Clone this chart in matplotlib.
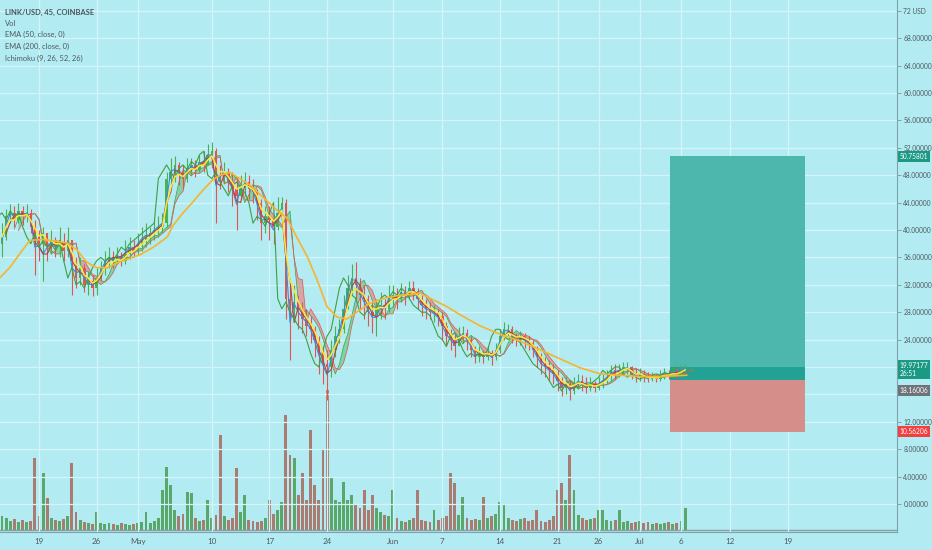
import matplotlib
matplotlib.use('Agg')
import matplotlib.pyplot as plt
import matplotlib.dates as mdates
import matplotlib.transforms as mtrans
import numpy as np
import pandas as pd
from datetime import datetime

# ---------------- data ----------------
bar_start = '2021-04-14 12:00'   # half-day bars
first_open = 38.0
close = [39.0, 42.0, 42.5, 41.5, 42.8, 42.0, 42.5, 40.5, 39.0, 38.0,
         39.5, 37.5, 38.5, 37.5, 38.0, 37.0, 38.5, 35.5, 33.0, 34.5,
         32.0, 32.5, 31.5, 33.0, 34.5, 35.5, 36.0, 35.5, 36.0, 35.5,
         36.5, 37.5, 37.0, 38.0, 38.5, 39.0, 39.5, 40.0, 40.5, 41.0,
         47.5, 48.5, 49.5, 48.5, 47.5, 49.0, 49.5, 48.8, 50.0, 49.5,
         51.0, 51.5, 48.0, 47.5, 48.5, 47.0, 46.0, 45.0, 46.5, 47.0,
         46.0, 45.5, 44.0, 41.0, 42.0, 41.5, 40.5, 42.5, 44.0, 30.0,
         28.5, 29.5, 28.0, 27.0, 26.0, 25.5, 24.0, 22.0, 20.5, 20.0,
         22.5, 24.5, 25.5, 28.5, 31.5, 33.0, 32.0, 30.5, 30.0, 28.0,
         27.5, 28.5, 29.0, 28.5, 30.0, 30.5, 30.0, 31.0, 30.5, 31.5,
         31.0, 30.0, 29.0, 28.5, 28.0, 28.0, 27.5, 26.0, 24.5, 24.0,
         23.0, 24.5, 25.0, 24.0, 22.5, 21.5, 22.0, 21.5, 22.0, 21.5,
         22.5, 24.5, 25.5, 25.5, 24.5, 24.0, 24.5, 24.0, 23.5, 22.5,
         21.5, 20.5, 20.0, 19.5, 19.0, 18.0, 17.0, 17.5, 16.5, 17.5,
         18.0, 17.5, 17.0, 17.5, 17.0, 17.5, 18.0, 18.5, 19.5, 19.0,
         19.5, 20.0, 20.0, 19.0, 18.5, 19.0, 18.5, 18.2, 18.5, 18.3,
         18.8, 19.0, 18.8, 19.2, 19.0, 19.5, 19.97]
high = [41.0, 43.0, 43.8, 43.5, 44.0, 43.5, 43.8, 43.0, 41.5, 40.0,
        40.5, 39.5, 40.0, 39.0, 40.4, 39.5, 40.5, 38.5, 36.0, 36.0,
        35.0, 34.0, 33.5, 34.5, 35.5, 37.0, 37.5, 37.0, 37.5, 36.8,
        38.5, 39.0, 38.5, 39.5, 40.5, 41.0, 40.5, 41.5, 42.0, 42.5,
        48.5, 50.5, 50.8, 50.0, 49.5, 50.5, 50.5, 50.2, 51.0, 51.5,
        52.5, 52.8, 52.0, 49.5, 50.0, 49.0, 48.5, 47.5, 48.0, 48.5,
        48.0, 47.5, 46.0, 44.5, 43.5, 43.5, 42.0, 44.8, 44.8, 44.5,
        32.0, 32.0, 30.5, 29.5, 28.5, 27.5, 26.0, 24.5, 23.0, 22.5,
        24.0, 26.0, 27.0, 30.5, 33.5, 35.0, 35.3, 33.0, 32.0, 30.5,
        29.5, 30.0, 31.0, 30.0, 32.0, 32.0, 31.5, 32.2, 31.8, 32.5,
        32.6, 31.5, 30.5, 30.0, 29.5, 29.0, 28.5, 28.0, 26.5, 25.5,
        25.0, 25.8, 26.0, 25.5, 24.5, 23.0, 23.0, 22.5, 23.0, 22.5,
        23.5, 25.5, 26.5, 26.3, 26.0, 25.0, 25.3, 25.0, 24.5, 24.0,
        23.0, 22.0, 21.5, 21.0, 20.5, 19.5, 18.5, 18.8, 18.0, 18.5,
        19.0, 18.8, 18.5, 18.5, 18.0, 18.5, 19.0, 19.5, 20.3, 20.5,
        20.5, 20.7, 20.8, 20.2, 19.8, 19.8, 19.5, 19.2, 19.3, 19.0,
        19.6, 19.8, 19.6, 20.0, 19.8, 20.3, 20.5]
low = [36.0, 38.5, 41.0, 40.5, 41.0, 40.8, 41.2, 39.5, 33.5, 35.5,
       32.5, 35.5, 36.5, 36.0, 36.0, 35.5, 36.0, 30.5, 31.5, 32.0,
       31.0, 30.5, 30.3, 30.5, 32.5, 33.5, 34.5, 34.5, 35.0, 34.8,
       35.0, 35.8, 36.0, 36.5, 37.0, 37.5, 38.0, 38.5, 39.0, 39.5,
       40.5, 46.5, 47.0, 46.5, 46.0, 47.0, 48.0, 47.8, 48.5, 48.5,
       49.5, 49.0, 41.0, 46.0, 47.0, 45.5, 43.5, 40.0, 44.5, 45.0,
       44.5, 44.0, 41.5, 38.5, 39.5, 38.5, 38.0, 40.0, 41.5, 27.0,
       21.0, 26.5, 25.5, 25.0, 24.5, 23.5, 21.5, 19.0, 17.5, 15.2,
       18.5, 21.5, 23.5, 25.0, 28.5, 30.5, 30.0, 28.5, 27.0, 26.0,
       25.0, 24.5, 27.0, 27.0, 28.0, 28.8, 28.5, 29.5, 29.0, 30.0,
       29.8, 28.5, 27.5, 27.0, 27.0, 26.5, 26.0, 24.0, 23.0, 22.5,
       21.5, 23.0, 23.5, 22.5, 21.5, 20.6, 20.8, 20.6, 21.0, 20.3,
       21.0, 22.0, 24.0, 24.5, 23.5, 23.0, 23.2, 22.8, 22.5, 21.5,
       20.0, 19.0, 18.5, 18.0, 17.5, 16.5, 15.8, 16.0, 15.2, 16.0,
       16.8, 16.5, 16.2, 16.5, 16.3, 16.6, 17.0, 17.5, 18.0, 18.2,
       18.5, 18.8, 19.0, 18.3, 17.8, 18.0, 17.8, 17.8, 17.9, 17.8,
       18.0, 18.3, 18.2, 18.5, 18.4, 18.8, 19.2]
volume = [14, 12, 9, 11, 8, 10, 8, 9, 72, 14,
          57, 32, 12, 10, 9, 11, 14, 67, 18, 10,
          8, 7, 6, 18, 7, 6, 7, 6, 5, 7,
          6, 5, 6, 7, 8, 18, 7, 9, 12, 40,
          63, 45, 20, 14, 16, 38, 37, 12, 9, 10,
          30, 12, 15, 95, 14, 10, 12, 62, 18, 35,
          10, 9, 8, 9, 12, 30, 16, 20, 28, 115,
          75, 72, 35, 57, 30, 100, 45, 30, 80, 140,
          53, 30, 28, 48, 30, 35, 25, 22, 40, 20,
          35, 22, 18, 15, 14, 40, 12, 9, 8, 10,
          12, 40, 10, 9, 8, 20, 10, 12, 14, 57,
          47, 15, 33, 12, 10, 11, 10, 33, 12, 14,
          16, 28, 25, 12, 10, 9, 11, 12, 9, 10,
          20, 9, 8, 10, 14, 40, 47, 30, 75, 40,
          15, 12, 10, 11, 12, 20, 20, 10, 9, 10,
          20, 8, 9, 7, 8, 9, 7, 8, 6, 7,
          6, 7, 8, 6, 7, 9, 22]

# EMA 200 (day offset from 1 Apr 2021, value)
ema200_day = [13.3, 14.5, 15.7, 16.9, 18.5, 20.0, 21.4, 22.6, 23.8, 25.0,
              26.3, 27.5, 29.1, 30.3, 31.9, 33.6, 34.3, 35.5, 36.7, 37.9,
              39.1, 40.0, 41.2, 43.6, 45.2, 46.9, 48.1, 49.3, 50.6, 51.8,
              53.0, 54.2, 55.4, 56.6, 58.2, 59.8, 61.5, 63.1, 64.3, 65.9,
              67.6, 69.2, 71.6, 74.0, 76.4, 78.9, 81.3, 83.7, 86.2, 88.6,
              91.0, 93.4, 96.7]
ema200_val = [33.1, 34.6, 36.6, 38.5, 38.6, 38.4, 38.1, 37.1, 35.3, 34.5,
              34.5, 35.2, 35.9, 36.4, 37.5, 39.0, 40.7, 42.5, 44.1, 45.8,
              47.3, 48.0, 48.4, 46.6, 44.8, 42.9, 41.8, 39.0, 36.1, 32.7,
              28.8, 27.3, 27.0, 28.0, 29.3, 30.0, 30.4, 30.6, 30.8, 29.8,
              28.8, 27.6, 26.0, 24.8, 23.8, 22.5, 21.2, 19.9, 19.0, 18.8,
              18.6, 18.6, 18.8]

tick_dates = ['2021-04-19', '2021-04-26', '2021-05-01', '2021-05-10', '2021-05-17',
              '2021-05-24', '2021-06-01', '2021-06-07', '2021-06-14', '2021-06-21',
              '2021-06-26', '2021-07-01', '2021-07-06', '2021-07-12', '2021-07-19']
tick_labels = ['19', '26', 'May', '10', '17', '24', 'Jun', '7', '14', '21',
               '26', 'Jul', '6', '12', '19']
price_ticks = [0, 4, 8, 12, 16, 20, 24, 28, 32, 36, 40, 44, 48, 52, 56, 60, 64, 68, 72]
hidden_ticks = [16, 20]          # covered by the price tags

legend_lines = ['LINK/USD, 45, COINBASE', 'Vol', 'EMA (50, close, 0)',
                'EMA (200, close, 0)', 'Ichimoku (9, 26, 52, 26)']

entry_price = 18.16006
target_price = 50.75801
stop_price = 10.56206
last_price = 19.97177
countdown = '26:51'
pos_start = '2021-07-04 17:00'
pos_end = '2021-07-21 02:00'

# ---------------- styling ----------------
BG = '#b2ebf2'
GRID = '#d3f4f8'
TXT = '#4f5b60'
AXC = '#7fa3ab'
UP, DOWN = '#4caf50', '#e3534f'
plt.rcParams['font.family'] = ['Lato', 'DejaVu Sans']

fig = plt.figure(figsize=(9.32, 5.5), dpi=100, facecolor=BG)
ax = fig.add_axes([0, 18 / 550, 897 / 932, 532 / 550])
vax = ax.twinx()
ax.set_zorder(2)
vax.set_zorder(1)
ax.patch.set_alpha(0)

base = mdates.date2num(datetime(2021, 4, 1))
xs = mdates.date2num(pd.date_range(bar_start, periods=len(close), freq='12h').to_pydatetime())
step = xs[1] - xs[0]

o = np.array([first_open] + close[:-1])
c = np.array(close)
h = np.array(high)
l = np.array(low)
up = c >= o

# volume
vcol = np.where(up, '#4c9b52', '#a8675a')
vax.bar(xs, volume, width=step * 0.7, color=vcol, alpha=0.85, linewidth=0)
vax.axhline(0, color='#8e9ea3', lw=1.0)
vax.set_ylim(-2, 530)
vax.set_yticks([])
for s in vax.spines.values():
    s.set_visible(False)

# position tool
ps = mdates.date2num(datetime.fromisoformat(pos_start))
pe = mdates.date2num(datetime.fromisoformat(pos_end))
ax.fill_between([ps, pe], entry_price, target_price, color='#4db7ae', lw=0, zorder=1)
ax.fill_between([ps, pe], entry_price, last_price, color='#22a295', lw=0, zorder=1.1)
ax.fill_between([ps, pe], stop_price, entry_price, color='#d68e8b', lw=0, zorder=1)

# ichimoku (9/26/52/26 on 45-min bars ~ 1/2/3/2 half-day bars)
sh, sl, sc = pd.Series(h), pd.Series(l), pd.Series(c)
tenkan = (sh.rolling(1).max() + sl.rolling(1).min()) / 2
kijun = (sh.rolling(2).max() + sl.rolling(2).min()) / 2
spanA = ((tenkan + kijun) / 2).values
spanB = ((sh.rolling(3).max() + sl.rolling(3).min()) / 2).values
xc = xs + 2 * step
ok = ~np.isnan(spanB)
ax.fill_between(xc[ok], spanA[ok], spanB[ok], where=spanA[ok] >= spanB[ok], interpolate=True,
                color='#5cbf6a', alpha=0.55, lw=0, zorder=2)
ax.fill_between(xc[ok], spanA[ok], spanB[ok], where=spanA[ok] < spanB[ok], interpolate=True,
                color='#ee706b', alpha=0.55, lw=0, zorder=2)
ax.plot(xc, spanA, color='#43a047', lw=0.5, zorder=2.2)
ax.plot(xc, spanB, color='#e0524e', lw=0.5, zorder=2.2)

# candles
ccol = np.where(up, UP, DOWN)
ax.vlines(xs, l, h, colors=ccol, lw=0.8, zorder=3)
ax.bar(xs, np.abs(c - o), bottom=np.minimum(o, c), width=step * 0.6, color=ccol,
       linewidth=0, zorder=3.1)

ax.plot(xs, tenkan, color='#2f8fe0', lw=0.8, zorder=4)
ax.plot(xs, kijun, color='#b5423e', lw=0.8, zorder=4)
ax.plot(xs - 2 * step, c, color='#3f9f45', lw=0.8, zorder=4)

ema50 = sc.ewm(span=50 * 0.75 / 12, adjust=False).mean()
ax.plot(xs, ema50, color='#ffe83a', lw=1.1, zorder=5)
ax.plot(base + np.array(ema200_day), ema200_val, color='#f5b52e', lw=1.2, zorder=5)

# axes
ax.set_xlim(base + 13.26, base + 122.25)
ax.set_ylim(-4.09, 73.58)
vax.set_xlim(base + 13.26, base + 122.25)

ax.grid(True, color=GRID, lw=0.9, zorder=0)
ax.set_axisbelow(True)
ax.set_xticks(mdates.date2num([datetime.fromisoformat(d) for d in tick_dates]))
ax.set_xticklabels(tick_labels)
ax.tick_params(axis='x', length=0, pad=4, labelsize=5.8, labelcolor=TXT)
ax.yaxis.tick_right()
ax.set_yticks(price_ticks)


def ylab(p):
    if p == 72:
        return '72 USD'
    if p in hidden_ticks:
        return ''
    return f'{p:.5f}'


ax.set_yticklabels([ylab(p) for p in price_ticks])
ax.tick_params(axis='y', length=3, width=0.7, color=AXC, pad=1.5, labelsize=4.8, labelcolor=TXT)
for k in ['top', 'left']:
    ax.spines[k].set_visible(False)
for k in ['right', 'bottom']:
    ax.spines[k].set_color(AXC)
    ax.spines[k].set_linewidth(0.8)

# price labels on the scale
bt = mtrans.blended_transform_factory(ax.transAxes, ax.transData)


def tag(price, text, color, dy=0, va='center'):
    ax.annotate(text, xy=(1.0, price), xycoords=bt, xytext=(1.8, dy), textcoords='offset points',
                va=va, ha='left', fontsize=4.8, color='white', annotation_clip=False, zorder=10,
                bbox=dict(boxstyle='square,pad=0.3', fc=color, ec='none'))


tag(target_price, f'{target_price:.5f}', '#1a9a84')
tag(last_price, f'{last_price:.5f}\n{countdown}', '#1a9a84', dy=4, va='top')
tag(entry_price, f'{entry_price:.5f}', '#6d7378', dy=-7.5)
tag(stop_price, f'{stop_price:.5f}', '#f0403f')

# legend texts
ys = [12.5, 23.5, 34.5, 46, 58]
for i, (txt, yy) in enumerate(zip(legend_lines, ys)):
    fig.text(5 / 932, 1 - yy / 550, txt, fontsize=5.4, color='#46545a' if i == 0 else TXT,
             fontweight='bold' if i == 0 else 'normal', va='center', ha='left')

fig.savefig('out.png', dpi=100, facecolor=BG)
